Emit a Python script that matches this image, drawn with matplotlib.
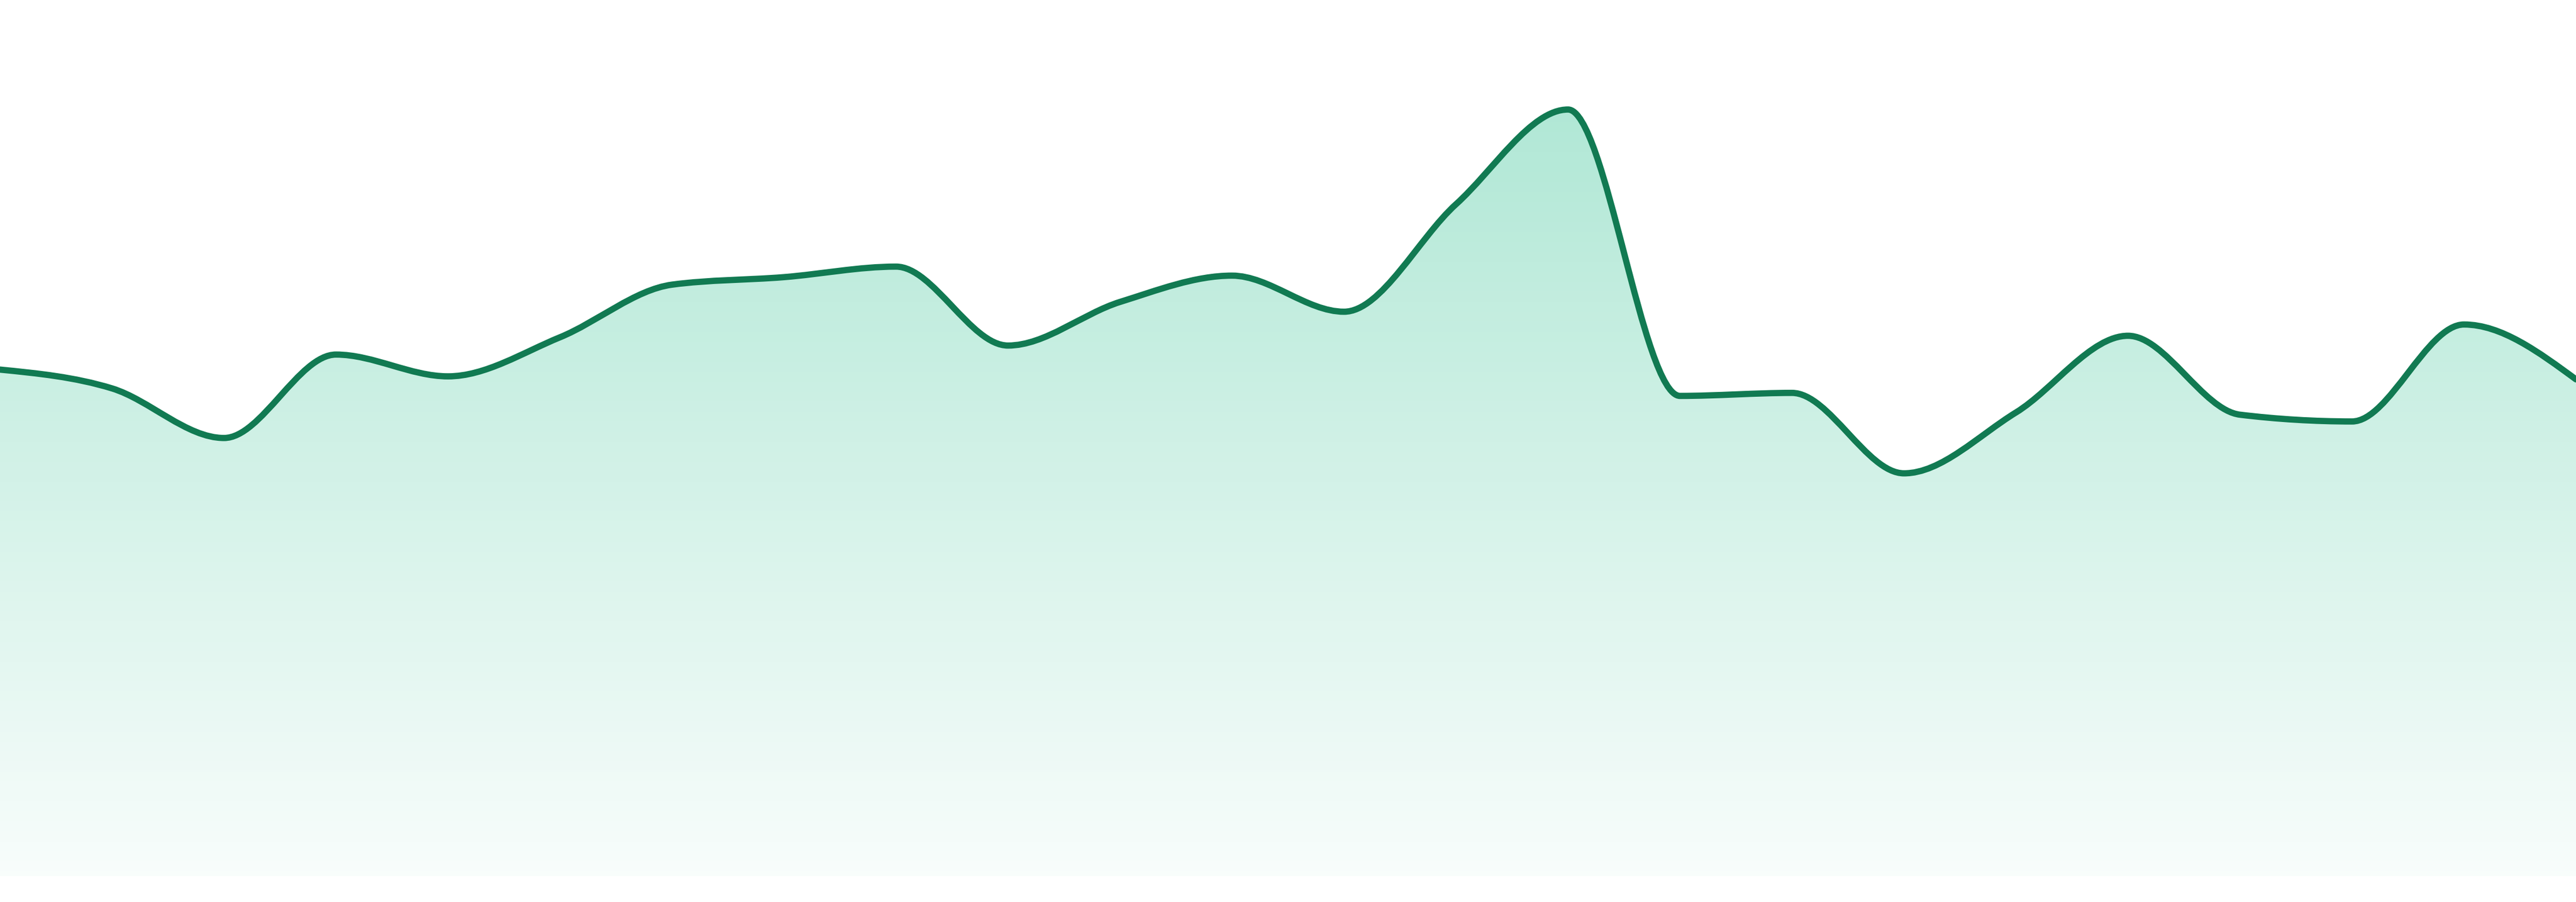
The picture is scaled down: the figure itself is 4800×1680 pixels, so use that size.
import numpy as np
import matplotlib
matplotlib.use("Agg")
import matplotlib.pyplot as plt
from matplotlib.path import Path
from matplotlib.patches import PathPatch

# data (one point per step)
steps = list(range(24))
values = [67.4, 64.9, 58.3, 69.4, 66.5, 71.7, 78.7, 79.7, 81.1, 70.6, 76.4, 79.9,
          75.1, 89.4, 102.0, 63.9, 64.3, 53.6, 61.7, 71.9, 61.4, 60.5, 73.4, 66.1]

LINE = "#117a52"
FILL = (0.063, 0.725, 0.506)  # emerald


# monotone-x tangents (same idea as d3.curveMonotoneX)
def monotone_tangents(x, y):
    x = np.asarray(x, float)
    y = np.asarray(y, float)
    h = np.diff(x)
    s = np.diff(y) / h
    t = np.zeros_like(y)
    for i in range(1, len(y) - 1):
        s0, s1 = s[i - 1], s[i]
        p = (s0 * h[i] + s1 * h[i - 1]) / (h[i - 1] + h[i])
        t[i] = (np.sign(s0) + np.sign(s1)) * min(abs(s0), abs(s1), 0.5 * abs(p))
    t[0] = (3 * s[0] - t[1]) / 2
    t[-1] = (3 * s[-1] - t[-2]) / 2
    return t


def curve_path(x, y, close_to=None):
    t = monotone_tangents(x, y)
    verts = [(x[0], y[0])]
    codes = [Path.MOVETO]
    for i in range(len(x) - 1):
        dx = (x[i + 1] - x[i]) / 3
        verts += [(x[i] + dx, y[i] + dx * t[i]),
                  (x[i + 1] - dx, y[i + 1] - dx * t[i + 1]),
                  (x[i + 1], y[i + 1])]
        codes += [Path.CURVE4] * 3
    if close_to is not None:
        verts += [(x[-1], close_to), (x[0], close_to), (x[0], close_to)]
        codes += [Path.LINETO, Path.LINETO, Path.CLOSEPOLY]
    return Path(verts, codes)


fig = plt.figure(figsize=(16, 5.6), dpi=300)
ax = fig.add_axes([0, 48 / 1680, 1, 1632 / 1680])
ax.set_xlim(steps[0], steps[-1])
ax.set_ylim(0, 116.57)
ax.axis("off")

# gradient fill under the curve
area = PathPatch(curve_path(steps, values, close_to=0), facecolor="none",
                 edgecolor="none", transform=ax.transData)
ax.add_patch(area)
top = max(values)
alpha = np.linspace(0.33, 0.03, 256)[:, None]
grad = np.zeros((256, 1, 4))
grad[..., 0], grad[..., 1], grad[..., 2] = FILL
grad[..., 3] = alpha
im = ax.imshow(grad, extent=[steps[0], steps[-1], 0, top], aspect="auto",
               origin="upper", interpolation="bilinear", zorder=1)
im.set_clip_path(area)

# the line itself
ax.add_patch(PathPatch(curve_path(steps, values), facecolor="none",
                       edgecolor=LINE, lw=2.8, zorder=2,
                       capstyle="round", joinstyle="round"))

fig.savefig("out.png", dpi=300, facecolor="white")
